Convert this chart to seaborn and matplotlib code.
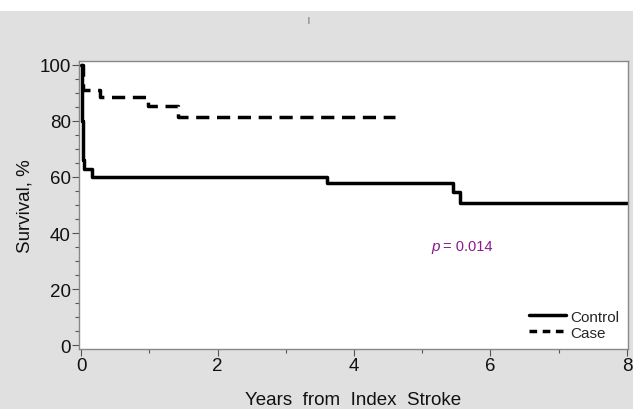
import matplotlib
matplotlib.use("Agg")
import matplotlib.pyplot as plt
import seaborn as sns
import pandas as pd
from matplotlib.lines import Line2D

# Data (step functions, Kaplan-Meier style)
control_t = [0.0, 0.01, 0.03, 0.05, 0.16, 3.60, 5.45, 5.55, 8.0]
control_s = [100.0, 80.0, 66.0, 63.0, 60.0, 57.7, 54.5, 50.8, 50.8]
case_t = [0.0, 0.03, 0.28, 0.98, 1.42, 4.6]
case_s = [100.0, 91.0, 88.7, 85.4, 81.4, 81.4]
groups = ["Control", "Case"]

df = pd.concat([
    pd.DataFrame({"Years": control_t, "Survival": control_s, "Group": groups[0]}),
    pd.DataFrame({"Years": case_t, "Survival": case_s, "Group": groups[1]}),
], ignore_index=True)

sns.set_theme(style="white")
plt.rcParams['font.family'] = ['Liberation Sans', 'DejaVu Sans']

fig = plt.figure(figsize=(6.33, 4.10), dpi=100)
fig.patch.set_facecolor("white")
bg = plt.Rectangle((0, 0), 1, 1 - 12 / 410, transform=fig.transFigure,
                   facecolor="#e0e0e0", edgecolor="none", zorder=-10)
fig.patches.append(bg)

ax = fig.add_axes([79 / 633, 60 / 410, (628 - 79) / 633, (350 - 62) / 410])
ax.set_facecolor("white")

lw = 2.5
sns.lineplot(data=df, x="Years", y="Survival", style="Group", hue="Group",
             palette={"Control": "black", "Case": "black"},
             dashes={"Control": "", "Case": (3.8, 2.2)},
             drawstyle="steps-post", linewidth=lw, ax=ax, legend=False,
             estimator=None, sort=False)

ax.set_xlim(-0.03, 8.015)
ax.set_ylim(-1.4, 101.4)
ax.set_xticks([0, 2, 4, 6, 8])
ax.set_xticks([1, 3, 5, 7], minor=True)
ax.set_yticks([0, 20, 40, 60, 80, 100])
ax.set_yticks([v for v in range(0, 101, 5) if v % 20], minor=True)
ax.tick_params(axis="both", which="major", length=5, width=0.8, color="#555555",
               labelsize=13.5, labelcolor="#111111", pad=1, bottom=True, left=True)
ax.tick_params(axis="both", which="minor", length=3, width=0.8, color="#555555",
               bottom=True, left=True)
for s in ax.spines.values():
    s.set_color("#888888")
    s.set_linewidth(1.0)

ax.set_xlabel("Years  from  Index  Stroke", fontsize=13.5, color="#111111", labelpad=12)
ax.set_ylabel("Survival, %", fontsize=13.5, color="#111111", labelpad=4)

ax.text(5.14, 35.4, "p", color="#8b1a8b", fontsize=11, va="center", ha="left",
        style="italic")
ax.text(5.30, 35.4, "= 0.014", color="#8b1a8b", fontsize=10.5, va="center", ha="left")

handles = [Line2D([], [], color="black", lw=lw),
           Line2D([], [], color="black", lw=lw, dashes=(2.2, 1.6))]
leg = ax.legend(handles, groups, loc="lower right", frameon=False, fontsize=11,
                handlelength=2.4, handletextpad=0.25, labelspacing=0.15,
                borderaxespad=0.2)

fig.text(308 / 633, 1 - 20 / 410, "|", fontsize=5, color="#333333", ha="center", va="center")

fig.savefig("out.png", dpi=100)
